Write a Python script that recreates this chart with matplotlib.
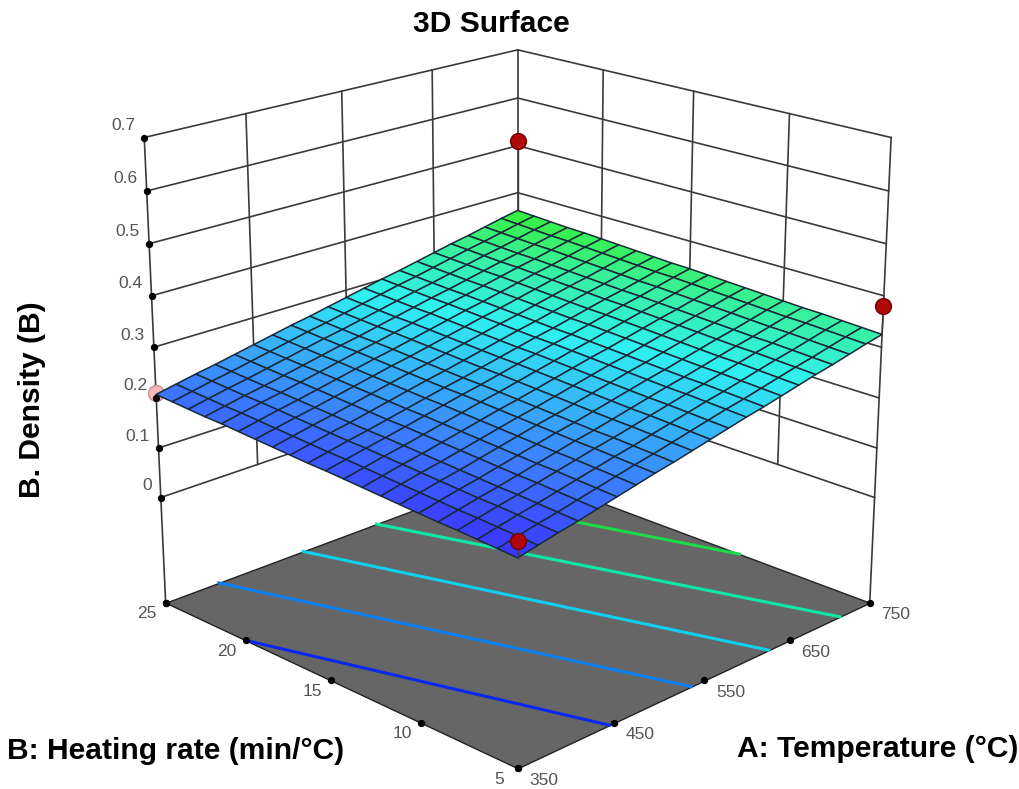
import matplotlib
matplotlib.use("Agg")
import matplotlib.pyplot as plt
from matplotlib.colors import LinearSegmentedColormap, Normalize
from mpl_toolkits.mplot3d import Axes3D, proj3d
from mpl_toolkits.mplot3d.art3d import Poly3DCollection
import numpy as np

plt.rcParams['font.family'] = ['Liberation Sans', 'DejaVu Sans']

TEMP_GRID = [350, 370, 390, 410, 430, 450, 470, 490, 510, 530, 550,
             570, 590, 610, 630, 650, 670, 690, 710, 730, 750]
RATE_GRID = [5, 6, 7, 8, 9, 10, 11, 12, 13, 14, 15,
             16, 17, 18, 19, 20, 21, 22, 23, 24, 25]
# density read along the front edge (rate = 5) and the rise with heating rate
DENSITY_FRONT = [0.170, 0.178, 0.186, 0.193, 0.201, 0.209, 0.217, 0.225, 0.232, 0.240, 0.248,
                 0.256, 0.264, 0.271, 0.279, 0.287, 0.295, 0.302, 0.310, 0.318, 0.325]
RATE_RISE = [0.0, 0.002, 0.004, 0.006, 0.007, 0.009, 0.011, 0.013, 0.015, 0.017, 0.019,
             0.020, 0.022, 0.024, 0.026, 0.028, 0.030, 0.031, 0.033, 0.035, 0.037]

TEMP_TICKS = [350, 450, 550, 650, 750]
RATE_TICKS = [5, 10, 15, 20, 25]
DENSITY_TICKS = [0, 0.1, 0.2, 0.3, 0.4, 0.5, 0.6, 0.7]
DENSITY_LABELS = ["0", "0.1", "0.2", "0.3", "0.4", "0.5", "0.6", "0.7"]
FLOOR_Z = -0.217

# floor contours, (temperature, rate) at both ends
CONTOUR_TEMP = [[350, 445], [405, 535], [496, 625], [579, 712], [665, 750]]
CONTOUR_RATE = [[20, 5], [25, 5], [25, 5], [25, 5], [25, 11.9]]
CONTOUR_COLORS = ["#0a28f0", "#0a80f0", "#10d0f0", "#10e8a8", "#20d848"]

# design points
POINT_TEMP = [350, 750, 750, 350]
POINT_RATE = [5, 5, 25, 25]
POINT_DENSITY = [0.20, 0.38, 0.51, 0.21]
POINT_COLORS = ["#b00808", "#b00808", "#b00808", "#f8b8b8"]
POINT_EDGES = ["#700000", "#700000", "#700000", "#c89090"]

LINE_C = "#3a3a3a"
TICK_C = "#555555"


def label_at(ax, x, y, z, text, dx, dy, ha="center"):
    x2, y2, _ = proj3d.proj_transform(x, y, z, ax.get_proj())
    ax.annotate(text, (x2, y2), xytext=(dx, dy), textcoords="offset pixels",
                ha=ha, va="center", fontsize=12.5, color=TICK_C, zorder=20)


def main():
    fig = plt.figure(figsize=(10.2, 7.89), dpi=100)
    ax = fig.add_axes([0.031, -0.094, 0.928, 1.2], projection="3d", computed_zorder=False)
    ax.patch.set_alpha(0)
    ax.set_proj_type("persp", focal_length=0.56)
    ax.view_init(elev=20, azim=-135)
    ax.set_box_aspect((1, 1, 0.965), zoom=0.9)
    ax.set_xlim(350, 750)
    ax.set_ylim(5, 25)
    ax.set_zlim(FLOOR_Z, 0.7)
    ax.set_axis_off()

    top = DENSITY_TICKS[-1]
    # wall grid
    for z in DENSITY_TICKS:
        ax.plot([350, 750], [25, 25], [z, z], color=LINE_C, lw=1.2, zorder=1)
        ax.plot([750, 750], [25, 5], [z, z], color=LINE_C, lw=1.2, zorder=1)
    for t in TEMP_TICKS[1:-1]:
        ax.plot([t, t], [25, 25], [0, top], color=LINE_C, lw=1.2, zorder=1)
    for r in RATE_TICKS[1:-1]:
        ax.plot([750, 750], [r, r], [0, top], color=LINE_C, lw=1.2, zorder=1)
    ax.plot([350, 350], [25, 25], [FLOOR_Z, top], color=LINE_C, lw=1.2, zorder=1)
    ax.plot([750, 750], [5, 5], [FLOOR_Z, top], color=LINE_C, lw=1.2, zorder=1)
    ax.plot([750, 750], [25, 25], [FLOOR_Z, top], color=LINE_C, lw=1.2, zorder=1)

    # floor
    floor = [[(350, 5, FLOOR_Z), (750, 5, FLOOR_Z), (750, 25, FLOOR_Z), (350, 25, FLOOR_Z)]]
    ax.add_collection3d(Poly3DCollection(floor, facecolor="#666666", edgecolor="#222222",
                                         linewidth=1.0, zorder=2))
    for temps, rates, c in zip(CONTOUR_TEMP, CONTOUR_RATE, CONTOUR_COLORS):
        ax.plot(temps, rates, [FLOOR_Z, FLOOR_Z], color=c, lw=2.2, zorder=3)

    # hidden point goes under the surface
    ax.scatter(POINT_TEMP[3], POINT_RATE[3], POINT_DENSITY[3], s=130, c=POINT_COLORS[3],
               edgecolors=POINT_EDGES[3], depthshade=False, zorder=4)

    # response surface
    T, R = np.meshgrid(TEMP_GRID, RATE_GRID)
    Z = np.add.outer(RATE_RISE, DENSITY_FRONT)
    cmap = LinearSegmentedColormap.from_list(
        "surf", [(0.0, "#3a30ff"), (0.22, "#3c78ff"), (0.62, "#30f0f0"),
                 (0.82, "#38f0a0"), (1.0, "#38f038")])
    ax.plot_surface(T, R, Z, rstride=1, cstride=1, cmap=cmap, norm=Normalize(Z.min(), Z.max()),
                    edgecolor="#182a3a", linewidth=1.1, shade=False, antialiased=True, zorder=5)

    # stems and visible points
    surf_at = [Z[0, 0], Z[0, -1], Z[-1, -1]]
    for i in range(3):
        ax.plot([POINT_TEMP[i]] * 2, [POINT_RATE[i]] * 2, [surf_at[i], POINT_DENSITY[i]],
                color=LINE_C, lw=1.0, zorder=6)
        ax.scatter(POINT_TEMP[i], POINT_RATE[i], POINT_DENSITY[i], s=130, c=POINT_COLORS[i],
                   edgecolors=POINT_EDGES[i], depthshade=False, zorder=7)

    # tick dots
    ax.scatter([350] * 8, [25] * 8, DENSITY_TICKS, s=18, c="black", depthshade=False, zorder=8)
    ax.scatter([350] * 5, RATE_TICKS, [FLOOR_Z] * 5, s=18, c="black", depthshade=False, zorder=8)
    ax.scatter(TEMP_TICKS, [5] * 5, [FLOOR_Z] * 5, s=18, c="black", depthshade=False, zorder=8)
    ax.scatter([350], [25], [FLOOR_Z], s=18, c="black", depthshade=False, zorder=8)

    fig.canvas.draw()
    for z, s in zip(DENSITY_TICKS, DENSITY_LABELS):
        label_at(ax, 350, 25, z, s, -9, 12, ha="right")
    for r in RATE_TICKS:
        label_at(ax, 350, r, FLOOR_Z, str(r), -19, -11)
    for t in TEMP_TICKS:
        label_at(ax, t, 5, FLOOR_Z, str(t), 26, -12)

    fig.text(491 / 1020, 1 - 24 / 789, "3D Surface", fontsize=21.6, fontweight="bold",
             ha="center", va="center")
    fig.text(32 / 1020, 1 - 400 / 789, "B. Density (B)", fontsize=21.6, fontweight="bold",
             rotation=90, ha="center", va="center")
    fig.text(176 / 1020, 1 - 751 / 789, "B: Heating rate (min/°C)", fontsize=21.6, fontweight="bold",
             ha="center", va="center")
    fig.text(878 / 1020, 1 - 749 / 789, "A: Temperature (°C)", fontsize=21.6, fontweight="bold",
             ha="center", va="center")

    fig.savefig("out.png", dpi=100)


if __name__ == "__main__":
    main()
